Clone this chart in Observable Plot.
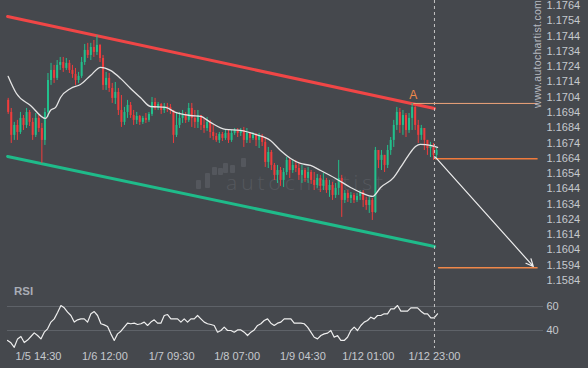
<!DOCTYPE html>
<html><head><meta charset="utf-8">
<script src="https://cdn.jsdelivr.net/npm/d3@7"></script>
<script src="https://cdn.jsdelivr.net/npm/@observablehq/plot@0.6"></script>
<style>
body{margin:0;background:#45484d;}
#wrap{position:relative;width:588px;height:368px;overflow:hidden;background:#45484d;font-family:"Liberation Sans",Arial,sans-serif;}
.wm{position:absolute;color:#55585e;font-family:"Open Sans",sans-serif;font-weight:300;font-size:21px;letter-spacing:4px;left:226px;top:168px;}
.bar{position:absolute;background:#54575d;border-radius:1px;width:5px;}
#rsiLab{position:absolute;left:14px;top:285px;font-weight:bold;font-size:11.5px;color:#a9adb5;}
#site{position:absolute;left:531px;top:108px;transform-origin:left top;transform:rotate(-90deg);font-size:10.5px;color:#b7bac0;white-space:nowrap;letter-spacing:0.3px;}
</style></head><body><div id="wrap">
<div class="bar" style="left:196px;top:180px;height:9px"></div>
<div class="bar" style="left:205px;top:173px;height:15px"></div>
<div class="bar" style="left:212px;top:167px;height:8px"></div>
<div class="bar" style="left:218px;top:168px;height:7px"></div>
<div class="bar" style="left:223px;top:163px;height:10px"></div>
<div class="bar" style="left:230px;top:165px;height:8px"></div>
<div class="bar" style="left:241px;top:158px;height:9px"></div>
<div class="wm">autochartist</div>
</div>
<script>
// ---- data ----
const firstOpen = 1.17019;
const close = [1.16940,1.16790,1.16855,1.16809,1.16901,1.16855,1.16940,1.16875,1.16790,1.16901,
 1.16835,1.16757,1.16940,1.17149,1.17215,1.17163,1.17248,1.17267,1.17228,1.17261,
 1.17215,1.17189,1.17149,1.17176,1.17267,1.17346,1.17313,1.17365,1.17333,1.17379,
 1.17293,1.17117,1.17163,1.17097,1.17032,1.17071,1.16953,1.16875,1.16940,1.16986,
 1.16920,1.16888,1.16914,1.16875,1.16901,1.16888,1.16927,1.17005,1.16966,1.16992,
 1.16953,1.16979,1.16973,1.16953,1.16790,1.16855,1.16901,1.16920,1.16888,1.16966,
 1.16901,1.16875,1.16920,1.16855,1.16835,1.16875,1.16809,1.16783,1.16757,1.16796,
 1.16770,1.16803,1.16757,1.16803,1.16822,1.16803,1.16822,1.16757,1.16803,1.16770,
 1.16790,1.16757,1.16783,1.16744,1.16613,1.16678,1.16593,1.16528,1.16560,1.16495,
 1.16547,1.16626,1.16560,1.16593,1.16573,1.16528,1.16560,1.16508,1.16547,1.16495,
 1.16462,1.16508,1.16456,1.16495,1.16429,1.16462,1.16397,1.16443,1.16508,1.16364,
 1.16410,1.16377,1.16397,1.16364,1.16390,1.16416,1.16364,1.16331,1.16364,1.16285,
 1.16691,1.16626,1.16659,1.16593,1.16691,1.16757,1.16855,1.16940,1.16855,1.16920,
 1.16822,1.16901,1.16973,1.16855,1.16790,1.16835,1.16757,1.16704,1.16724,1.16659,
 1.16691];
const high = [1.17032,1.16966,1.16875,1.16888,1.16940,1.16920,1.16966,1.16953,1.16901,1.16933,
 1.16920,1.16868,1.16966,1.17195,1.17261,1.17248,1.17280,1.17300,1.17300,1.17293,
 1.17280,1.17248,1.17228,1.17202,1.17300,1.17385,1.17392,1.17392,1.17411,1.17444,
 1.17385,1.17313,1.17202,1.17195,1.17130,1.17136,1.17097,1.17051,1.16973,1.17019,
 1.17005,1.16953,1.16940,1.16920,1.16914,1.16933,1.16940,1.17038,1.17032,1.17005,
 1.16999,1.16999,1.16999,1.16992,1.16953,1.16933,1.16940,1.16953,1.16940,1.16999,
 1.16999,1.16953,1.16953,1.16920,1.16901,1.16907,1.16888,1.16855,1.16803,1.16809,
 1.16809,1.16822,1.16822,1.16822,1.16835,1.16835,1.16835,1.16842,1.16835,1.16809,
 1.16809,1.16803,1.16803,1.16796,1.16776,1.16711,1.16691,1.16606,1.16593,1.16580,
 1.16573,1.16645,1.16639,1.16626,1.16626,1.16606,1.16593,1.16573,1.16580,1.16560,
 1.16547,1.16534,1.16528,1.16541,1.16508,1.16495,1.16482,1.16475,1.16626,1.16528,
 1.16429,1.16429,1.16416,1.16410,1.16410,1.16429,1.16429,1.16384,1.16384,1.16377,
 1.16711,1.16691,1.16691,1.16659,1.16724,1.16776,1.16888,1.16973,1.16966,1.16953,
 1.16933,1.16933,1.16999,1.16986,1.16888,1.16855,1.16835,1.16757,1.16744,1.16737,
 1.16704];
const low = [1.16927,1.16737,1.16757,1.16757,1.16796,1.16822,1.16835,1.16848,1.16757,1.16776,
 1.16809,1.16606,1.16724,1.16907,1.17117,1.17130,1.17149,1.17215,1.17202,1.17215,
 1.17195,1.17163,1.17117,1.17130,1.17163,1.17248,1.17293,1.17280,1.17300,1.17313,
 1.17267,1.17084,1.17084,1.17071,1.16999,1.16992,1.16920,1.16842,1.16855,1.16901,
 1.16901,1.16855,1.16861,1.16855,1.16861,1.16868,1.16875,1.16914,1.16953,1.16953,
 1.16927,1.16933,1.16940,1.16927,1.16737,1.16776,1.16835,1.16868,1.16868,1.16875,
 1.16842,1.16835,1.16835,1.16822,1.16803,1.16816,1.16770,1.16757,1.16744,1.16737,
 1.16750,1.16757,1.16737,1.16744,1.16790,1.16776,1.16783,1.16711,1.16737,1.16737,
 1.16757,1.16717,1.16704,1.16717,1.16580,1.16573,1.16560,1.16495,1.16475,1.16456,
 1.16449,1.16528,1.16508,1.16541,1.16547,1.16495,1.16475,1.16482,1.16475,1.16469,
 1.16429,1.16443,1.16416,1.16429,1.16410,1.16384,1.16364,1.16377,1.16397,1.16253,
 1.16344,1.16351,1.16344,1.16344,1.16351,1.16364,1.16318,1.16299,1.16279,1.16233,
 1.16279,1.16573,1.16560,1.16547,1.16573,1.16659,1.16711,1.16822,1.16803,1.16790,
 1.16776,1.16803,1.16822,1.16822,1.16737,1.16757,1.16691,1.16659,1.16645,1.16626,
 1.16639];
const maT = [0,2.7,7.3,12.2,13.8,15.5,17.1,20.4,23.6,26.9,30.2,33.4,36.7,40,43.2,46.5,51.4,54.7,59.6,62.9,66.1,71,75.9,80.8,85.7,89,92.3,95.5,98.8,102.1,107,111.9,115.8,119.1,121.7,126,128.2,130.8,133.1,134.7,138,140.3];
const maV = [1.17176,1.17064,1.16986,1.16901,1.16953,1.16973,1.17038,1.17097,1.17123,1.17182,
 1.17235,1.17215,1.17163,1.17097,1.17038,1.16979,1.16973,1.16940,1.16920,1.16914,
 1.16875,1.16829,1.16822,1.16796,1.16757,1.16691,1.16639,1.16606,1.16593,1.16560,
 1.16508,1.16449,1.16410,1.16390,1.16449,1.16515,1.16580,1.16659,1.16717,1.16731,
 1.16724,1.16711];
const rsi = [31.7,29.7,26,33,35,30,32,35,38,35.8,
 33,38.6,41.4,47,49.7,55,60.8,58.9,55.3,52.5,
 47,48.9,49.7,49.7,47,53.9,55.8,52.5,45.6,44.7,
 43.3,37.2,31.7,37.2,39.4,42.8,46.1,45.6,46.1,45,
 45.6,47,44.2,47,48.9,46.1,46.1,52.5,53.3,49.7,
 49.7,49.7,47,49.7,47,49.7,49.7,52.5,49.7,47,
 45.6,45,44.2,
 38.6,40,42.8,40,40,38.6,40.5,40.5,38.6,35.8,
 38.6,40.5,44.2,45.6,48.3,49.7,46.1,44.2,46.1,47,
 49.7,49.7,49.7,46.1,46.1,46.1,45.6,42.8,38.6,34.4,
 33,35.8,37.2,37.8,40,34.4,35.8,31.7,31.7,34.4,
 40,42.8,40,44.2,47,48.3,51.1,49.7,52.5,52.5,
 53.9,53.9,58.1,58.1,60.8,56.1,56.1,56.1,58.9,58.9,
 58.9,56.1,53.9,53.9,50.6,50.6,53.9];
const rsiSpan = [-0.2, 140.3];
const channelT = [-0.2, 139.3];
const resistance = [1.17568, 1.16966];
const support = [1.16652, 1.16063];
const nowT = 139.3;
const projEndT = 173;
const pointA = {t: 132.4, v: 1.16999};
const currentLevel = 1.16637;
const targetLevel = 1.15924;
const arrowFrom = {t: 139.6, v: 1.16648};
const arrowTo = {t: 171.6, v: 1.15932};
const yTicks = [1.1584,1.1594,1.1604,1.1614,1.1624,1.1634,1.1644,1.1654,1.1664,1.1674,1.1684,1.1694,1.1704,1.1714,1.1724,1.1734,1.1744,1.1754,1.1764];
const rsiTicks = [40, 60];
const xTickT = [9.9, 31.6, 53.4, 74.8, 96.3, 117.7, 139.3];
const xTickLabels = ["1/5 14:30","1/6 12:00","1/7 09:30","1/8 07:00","1/9 04:30","1/12 01:00","1/12 23:00"];

// ---- build ----
const candles = close.map((c, i) => ({i, open: i ? close[i-1] : firstOpen, close: c, high: high[i], low: low[i]}));
const up = candles.filter(d => d.close >= d.open);
const down = candles.filter(d => d.close < d.open);
const G = "#22c08c", R = "#f03c3c";
const FONT = '"Liberation Sans", Arial, sans-serif';
const X = {domain: [0, 140], range: [7.7, 7.7 + 140 * 3.06], axis: null};
const baseStyle = {background: "transparent", color: "#c6c9ce", fontFamily: FONT, fontSize: "11px", overflow: "visible", position: "absolute", left: "0px"};
const labelMap = new Map(xTickT.map((t, i) => [t, xTickLabels[i]]));
const dash = {stroke: "#c4c4c4", strokeDasharray: "3,3", strokeWidth: 1};

const main = Plot.plot({
  width: 588, height: 290, marginTop: 0, marginBottom: 0, marginLeft: 7, marginRight: 45,
  style: {...baseStyle, top: "0px"},
  x: X,
  y: {domain: [1.1584, 1.1764], range: [280, 5], axis: null},
  marks: [
    Plot.axisY({anchor: "right", ticks: yTicks, tickSize: 0, tickPadding: 3, tickFormat: d => d.toFixed(4), fill: "#c6c9ce", fontSize: 11, label: null}),
    Plot.line(channelT.map((t, i) => [t, resistance[i]]), {stroke: "#f04646", strokeWidth: 3}),
    Plot.line(channelT.map((t, i) => [t, support[i]]), {stroke: "#1fbb8a", strokeWidth: 3}),
    Plot.ruleX(up, {x: "i", y1: "low", y2: "high", stroke: G, strokeWidth: 1}),
    Plot.ruleX(down, {x: "i", y1: "low", y2: "high", stroke: R, strokeWidth: 1}),
    Plot.ruleX(up, {x: "i", y1: "open", y2: "close", stroke: G, strokeWidth: 2}),
    Plot.ruleX(down, {x: "i", y1: "open", y2: "close", stroke: R, strokeWidth: 2}),
    Plot.line(maT.map((t, i) => [t, maV[i]]), {stroke: "#e4e4e4", strokeWidth: 1.3, curve: "monotone-x"}),
    Plot.ruleX([nowT], dash),
    Plot.link([{x1: pointA.t, x2: projEndT, y: pointA.v}], {x1: "x1", x2: "x2", y1: "y", y2: "y", stroke: "#eea57a", strokeWidth: 1}),
    Plot.link([{x1: nowT + 0.2, x2: projEndT, y: currentLevel}], {x1: "x1", x2: "x2", y1: "y", y2: "y", stroke: "#f07a3c", strokeWidth: 1.5}),
    Plot.link([{x1: nowT + 1.2, x2: projEndT, y: targetLevel}], {x1: "x1", x2: "x2", y1: "y", y2: "y", stroke: "#f0884a", strokeWidth: 1.5}),
    Plot.arrow([{x1: arrowFrom.t, y1: arrowFrom.v, x2: arrowTo.t, y2: arrowTo.v}], {x1: "x1", y1: "y1", x2: "x2", y2: "y2", stroke: "#eeeeee", strokeWidth: 1.2, headLength: 10, headAngle: 50}),
    Plot.text([pointA], {x: "t", y: "v", text: () => "A", dy: -8, fill: "#f0894a", fontSize: 12})
  ]
});

const rsiPlot = Plot.plot({
  width: 588, height: 88, marginTop: 0, marginBottom: 20, marginLeft: 7, marginRight: 45,
  style: {...baseStyle, top: "280px"},
  x: X,
  y: {domain: [40, 60], range: [50, 26], axis: null},
  marks: [
    Plot.ruleY(rsiTicks, {stroke: "#5e6268", strokeWidth: 1}),
    Plot.axisY({anchor: "right", ticks: rsiTicks, tickSize: 0, tickPadding: 3, fill: "#c6c9ce", fontSize: 11, label: null}),
    Plot.axisX({anchor: "bottom", ticks: xTickT, tickSize: 0, tickPadding: 4, tickFormat: d => labelMap.get(d), fill: "#c6c9ce", fontSize: 11, label: null}),
    Plot.line(rsi.map((v, k) => [rsiSpan[0] + k * (rsiSpan[1] - rsiSpan[0]) / (rsi.length - 1), v]), {stroke: "#eeeeee", strokeWidth: 1.2}),
    Plot.ruleX([nowT], dash)
  ]
});

const wrap = document.getElementById("wrap");
wrap.appendChild(main);
wrap.appendChild(rsiPlot);
const lab = document.createElement("div"); lab.id = "rsiLab"; lab.textContent = "RSI"; wrap.appendChild(lab);
const site = document.createElement("div"); site.id = "site"; site.textContent = "www.autochartist.com"; wrap.appendChild(site);
</script></body></html>
